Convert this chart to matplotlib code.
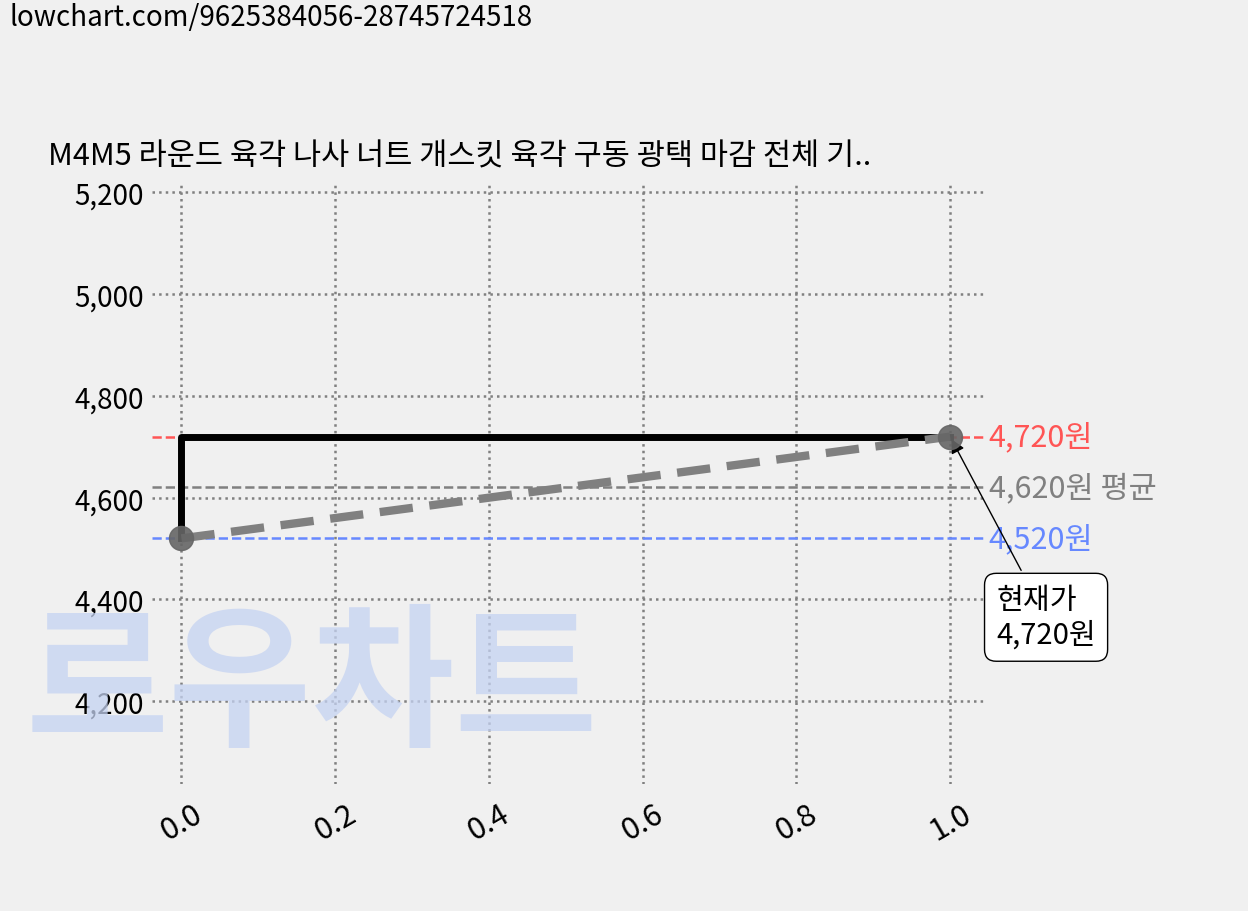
import matplotlib
matplotlib.use("Agg")
import matplotlib.pyplot as plt

x = [0.0, 1.0]
prices = [4520, 4720]
step_x = [0.0, 0.0, 1.0]
step_y = [4520, 4720, 4720]
high, avg, low = 4720, 4620, 4520
yticks = [4200, 4400, 4600, 4800, 5000, 5200]
xticks = [0.0, 0.2, 0.4, 0.6, 0.8, 1.0]
title = "M4M5 라운드 육각 나사 너트 개스킷 육각 구동 광택 마감 전체 기.."

plt.rcParams['font.family'] = ['Noto Sans CJK KR', 'DejaVu Sans']
fig = plt.figure(figsize=(12.48, 9.12), dpi=100, facecolor='#f0f0f0')
ax = fig.add_axes([0.122, 0.139, 0.667, 0.658], facecolor='#f0f0f0')

fig.text(0.25, 0.245, "로우차트", fontsize=112, fontweight='black', color='#c5d3f2',
         alpha=0.75, ha='center', va='center', zorder=0, transform=fig.transFigure)
fig.text(0.008, 0.997, "lowchart.com/9625384056-28745724518", fontsize=20, va='top')

ax.plot(step_x, step_y, color='black', lw=5, zorder=3)
ax.plot(x, prices, color='gray', lw=6, ls=(0, (4, 2)), zorder=3)
ax.scatter(x, prices, s=300, color='#666666', alpha=0.9, zorder=4)
ax.axhline(high, color='#ff5555', ls='--', lw=1.8, zorder=2)
ax.axhline(avg, color='gray', ls='--', lw=1.8, zorder=2)
ax.axhline(low, color='#6688ff', ls='--', lw=1.8, zorder=2)

tr = ax.get_yaxis_transform()
ax.text(1.005, high, f"{high:,}원", color='#ff5555', fontsize=22, va='center', transform=tr)
ax.text(1.005, avg, f"{avg:,}원 평균", color='gray', fontsize=22, va='center', transform=tr)
ax.text(1.005, low, f"{low:,}원", color='#6688ff', fontsize=22, va='center', transform=tr)

ax.annotate(f"현재가\n{prices[-1]:,}원", xy=(1.0, prices[-1]), xytext=(1.06, 4365),
            fontsize=21, ha='left', va='center',
            bbox=dict(boxstyle='round,pad=0.4', fc='white', ec='black'),
            arrowprops=dict(arrowstyle='-|>', color='black', lw=1), annotation_clip=False)

ax.set_xlim(-0.038, 1.045)
ax.set_ylim(4037, 5216)
ax.set_yticks(yticks)
ax.set_yticklabels([f"{v:,}" for v in yticks])
ax.set_xticks(xticks)
ax.set_xticklabels([f"{v:.1f}" for v in xticks], rotation=30)
ax.tick_params(axis='y', length=0, labelsize=20, pad=6)
ax.tick_params(axis='x', length=0, labelsize=22, pad=10)
ax.grid(True, ls=':', color='gray', lw=1.8)
for s in ax.spines.values():
    s.set_visible(False)
ax.set_title(title, fontsize=22, loc='left', x=-0.125, pad=14)
fig.savefig("out.png", dpi=100, facecolor=fig.get_facecolor())
